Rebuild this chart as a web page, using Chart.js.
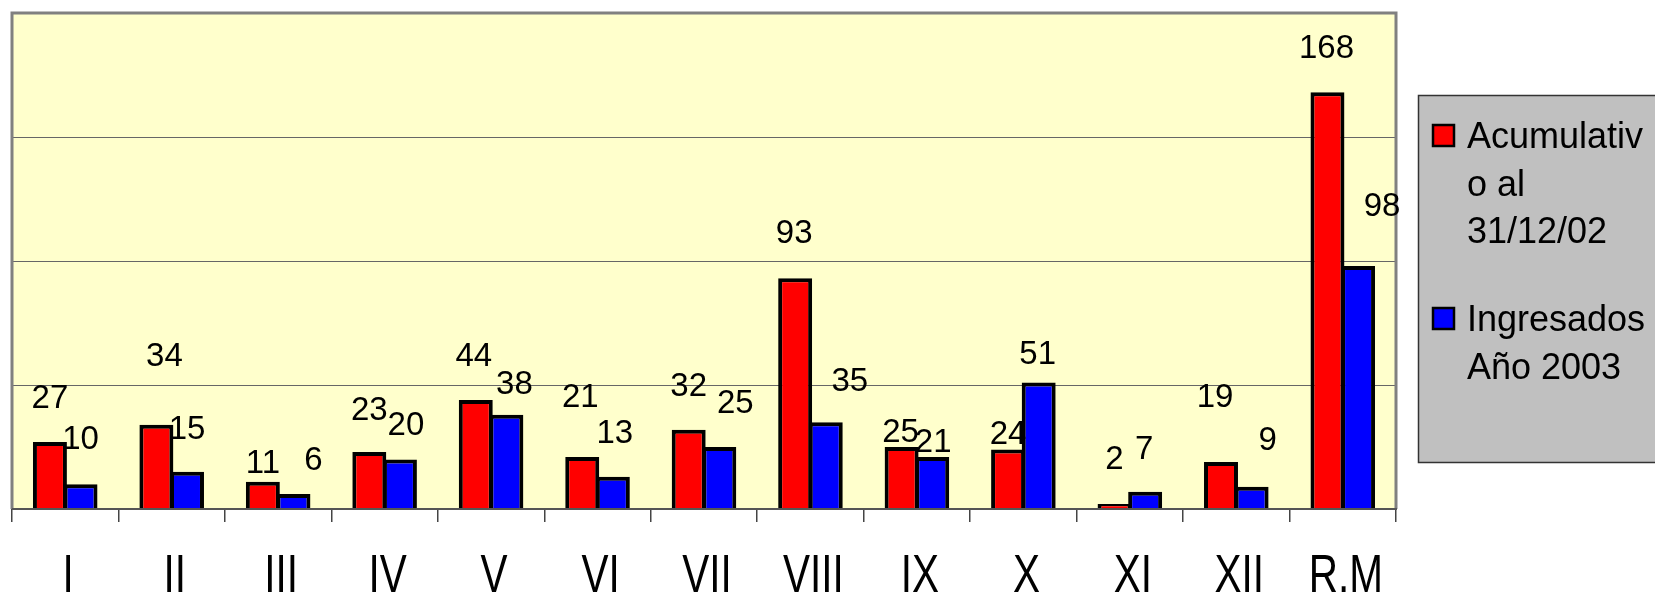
<!DOCTYPE html>
<html>
<head>
<meta charset="utf-8">
<script src="https://cdn.jsdelivr.net/npm/chart.js@4"></script>
<style>
body { margin: 0; background: #fff; }
</style>
</head>
<body>
<canvas id="chart" width="1655" height="592"></canvas>
<script>
const regiones = ['I', 'II', 'III', 'IV', 'V', 'VI', 'VII', 'VIII', 'IX', 'X', 'XI', 'XII', 'R.M'];
const acumulativo = [27, 34, 11, 23, 44, 21, 32, 93, 25, 24, 2, 19, 168];
const ingresados = [10, 15, 6, 20, 38, 13, 25, 35, 21, 51, 7, 9, 98];
const legendRed = ['Acumulativ', 'o al', '31/12/02'];
const legendBlue = ['Ingresados', 'Año 2003'];

// label nudges (px) so value labels sit roughly where the original put them
const redShiftX = [0, 8, 0, 0, -2, -2, 0, -1, -1, 0, 0, -6, -1];
const redShiftY = [0, 25, -25, -2, 0, 16, 0, 1, -29, -28, 1, 21, 0];
const blueShiftX = [0, 0, 20, 6, 8, 2, 16, 24, 1, -1, -1, 16, 24];
const blueShiftY = [1, -1, -10, -10, -13, 0, 0, -3, -29, -15, -1, 3, 16];

const frame = {
    id: 'frame',
    beforeDraw(chart) {
        const { ctx, chartArea: a } = chart;
        ctx.save();
        ctx.fillStyle = '#FFFFCC';
        ctx.fillRect(a.left, a.top, a.right - a.left, a.bottom - a.top);
        ctx.restore();
    },
    afterDatasetsDraw(chart) {
        const { ctx, chartArea: a } = chart;
        ctx.save();
        ctx.strokeStyle = '#808080';
        ctx.lineWidth = 3;
        ctx.beginPath();
        ctx.moveTo(a.left, a.bottom);
        ctx.lineTo(a.left, a.top);
        ctx.lineTo(a.right, a.top);
        ctx.lineTo(a.right, a.bottom);
        ctx.stroke();
        ctx.strokeStyle = '#555';
        ctx.lineWidth = 2;
        ctx.beginPath();
        ctx.moveTo(a.left, a.bottom);
        ctx.lineTo(a.right + 1, a.bottom);
        ctx.stroke();

        // category names, drawn condensed like the original
        const xs = chart.scales.x;
        ctx.font = '54px "Liberation Sans", Arial, sans-serif';
        ctx.fillStyle = '#000';
        ctx.textAlign = 'center';
        ctx.textBaseline = 'alphabetic';
        chart.data.labels.forEach((lab, i) => {
            const px = xs.getPixelForValue(i) + 3;
            ctx.save();
            ctx.translate(px, 592);
            ctx.scale(0.75, 1);
            ctx.fillText(lab, 0, 0);
            ctx.restore();
        });

        // value labels
        ctx.font = '33px "Liberation Sans", Arial, sans-serif';
        ctx.textBaseline = 'middle';
        const shifts = [[redShiftX, redShiftY], [blueShiftX, blueShiftY]];
        chart.data.datasets.forEach((ds, di) => {
            chart.getDatasetMeta(di).data.forEach((bar, i) => {
                const x = bar.x + shifts[di][0][i];
                const y = bar.y - 43 - shifts[di][1][i];
                ctx.fillText(String(ds.data[i]), x, y);
            });
        });

        // legend box
        ctx.fillStyle = '#C0C0C0';
        ctx.fillRect(1418, 95, 250, 367);
        ctx.strokeStyle = '#333';
        ctx.lineWidth = 1.5;
        ctx.strokeRect(1418.5, 95.5, 250, 367);
        const entries = [
            { lines: legendRed, color: chart.data.datasets[0].backgroundColor, top: 125 },
            { lines: legendBlue, color: chart.data.datasets[1].backgroundColor, top: 308 }
        ];
        ctx.font = '36px "Liberation Sans", Arial, sans-serif';
        ctx.textAlign = 'left';
        ctx.textBaseline = 'alphabetic';
        entries.forEach(e => {
            ctx.fillStyle = e.color;
            ctx.fillRect(1433, e.top, 21, 21);
            ctx.strokeStyle = '#000';
            ctx.lineWidth = 2.5;
            ctx.strokeRect(1433, e.top, 21, 21);
            ctx.fillStyle = '#000';
            e.lines.forEach((t, k) => {
                ctx.fillText(t, 1467, e.top + 23 + k * 47.5);
            });
        });
        ctx.restore();
    }
};

const ctx = document.getElementById('chart').getContext('2d');
const myChart = new Chart(ctx, {
    type: 'bar',
    data: {
        labels: regiones,
        datasets: [{
            label: 'Acumulativo al 31/12/02',
            data: acumulativo,
            backgroundColor: '#FF0000',
            borderColor: '#000',
            borderWidth: 4,
            borderSkipped: 'bottom'
        }, {
            label: 'Ingresados Año 2003',
            data: ingresados,
            backgroundColor: '#0000FF',
            borderColor: '#000',
            borderWidth: 4,
            borderSkipped: 'bottom'
        }]
    },
    options: {
        responsive: false,
        animation: false,
        events: [],
        layout: { padding: { left: 12, top: 13, right: 259, bottom: 0 } },
        datasets: { bar: { categoryPercentage: 0.575, barPercentage: 1.11 } },
        plugins: { legend: { display: false }, tooltip: { enabled: false } },
        scales: {
            x: {
                grid: { drawOnChartArea: false, drawTicks: true, tickLength: 13, color: '#444', lineWidth: 1.5 },
                border: { display: false },
                ticks: { display: false },
                afterFit(scale) { scale.height = 83; }
            },
            y: {
                min: 0,
                max: 200,
                ticks: { display: false, stepSize: 50 },
                grid: { color: '#666', lineWidth: 1, drawTicks: false },
                border: { display: false },
                afterFit(scale) { scale.width = 0; }
            }
        }
    },
    plugins: [frame]
});
</script>
</body>
</html>
